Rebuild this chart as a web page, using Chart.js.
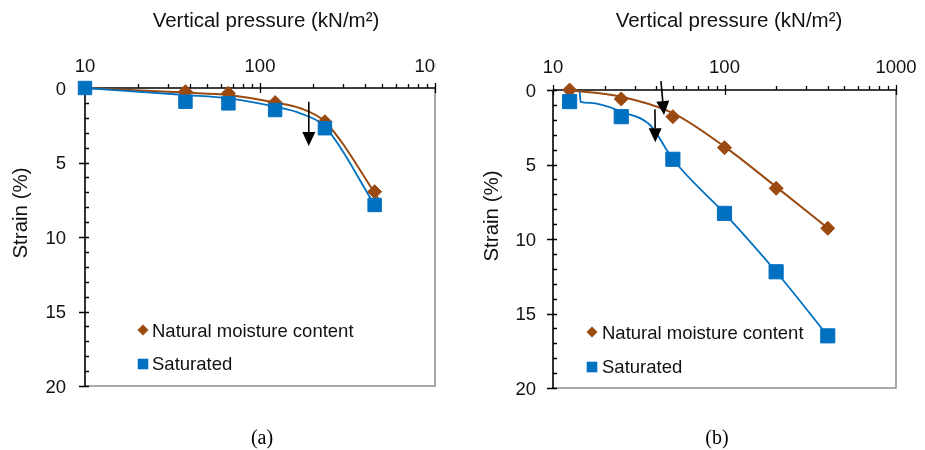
<!DOCTYPE html>
<html><head><meta charset="utf-8">
<script src="https://cdn.jsdelivr.net/npm/chart.js@4.4.1/dist/chart.umd.min.js"></script>
<style>
html,body{margin:0;padding:0;background:#fff;width:925px;height:450px;overflow:hidden}
#wrapA{position:absolute;left:0;top:0;width:462px;height:450px}
#wrapB{position:absolute;left:462px;top:0;width:463px;height:450px}
canvas{display:block}
</style></head><body>
<div id="wrapA"><canvas id="chartA" width="462" height="450"></canvas></div>
<div id="wrapB"><canvas id="chartB" width="463" height="450"></canvas></div>
<script>
// ---------- texts ----------
const xTitle = 'Vertical pressure (kN/m²)';
const yTitle = 'Strain (%)';
const seriesNames = ['Natural moisture content', 'Saturated'];
const xTickValues = [10, 100, 1000];
const xTickLabels = ['10', '100', '1000'];
const yTickValues = [0, 5, 10, 15, 20];
const yTickLabels = ['0', '5', '10', '15', '20'];
const panelLabels = ['(a)', '(b)'];

// ---------- panel (a) ----------
const pressureA = [10, 37.5, 66, 122, 235, 452];
const naturalA = [0, 0.25, 0.36, 0.98, 2.26, 6.96];
const saturatedA = [0, 0.92, 1.03, 1.48, 2.7, 7.85];
const naturalCurveXA = [10, 37.5, 66, 122, 170, 235, 452, 485];
const naturalCurveYA = [0, 0.31, 0.47, 0.98, 1.36, 2.26, 7.05, 7.63];
const saturatedCurveXA = [10, 37.5, 66, 122, 170, 235, 452];
const saturatedCurveYA = [0, 0.47, 0.69, 1.25, 1.7, 2.6, 7.85];
const arrowsA = [[190, 0.92, 190, 3.89]];

// ---------- panel (b) ----------
const pressureB = [12.5, 25, 50, 100, 200, 400];
const naturalB = [0, 0.6, 1.79, 3.87, 6.6, 9.28];
const saturatedB = [0.78, 1.79, 4.65, 8.28, 12.2, 16.5];
const naturalCurveXB = [12.5, 25, 50, 100, 200, 400];
const naturalCurveYB = [0.02, 0.45, 1.55, 3.8, 6.5, 9.27];
const saturatedCurveXB = [14.3, 14.5, 16.5, 25.7, 36.8, 50, 100, 200, 400];
const saturatedCurveYB = [0.12, 0.8, 0.87, 1.5, 2.35, 4.65, 8.28, 12.2, 16.5];
const arrowsB = [[42.6, -0.6, 44.4, 1.68], [39.3, 1.3, 39.5, 3.51]];

const BROWN = '#9A4A10';
const BLUE = '#0070C0';
const FONT = '"Liberation Sans", Arial, sans-serif';
const FS = 18.5;
const FT = 20.5;

function pts(xs, ys) { return xs.map((x, i) => ({ x: x, y: ys[i] })); }

const panelPlugin = {
  id: 'panel',
  beforeDatasetsDraw(chart, args, o) {
    const ctx = chart.ctx, xs = chart.scales.x, ys = chart.scales.y, a = chart.chartArea;
    ctx.save();
    ctx.lineCap = 'butt';
    // grey frame right & bottom
    ctx.strokeStyle = '#8f8f8f'; ctx.lineWidth = 1.6;
    ctx.beginPath();
    ctx.moveTo(a.left, a.bottom); ctx.lineTo(a.right, a.bottom); ctx.lineTo(a.right, a.top);
    ctx.stroke();
    // axes
    ctx.strokeStyle = '#000'; ctx.lineWidth = 1.6;
    ctx.beginPath();
    ctx.moveTo(a.left, a.top); ctx.lineTo(a.right + 1, a.top);
    ctx.moveTo(a.left, a.top); ctx.lineTo(a.left, a.bottom + 1);
    ctx.stroke();
    ctx.lineWidth = 1.3;
    ctx.beginPath();
    for (let d = 10; d < 1000; d *= 10) {
      for (let m = 2; m <= 9; m++) {
        const px = Math.round(xs.getPixelForValue(d * m)) + 0.5;
        ctx.moveTo(px, a.top); ctx.lineTo(px, a.top - 4);
      }
    }
    xTickValues.forEach(v => {
      const px = Math.round(xs.getPixelForValue(v)) + 0.5;
      ctx.moveTo(px, a.top - 5); ctx.lineTo(px, a.top + 5);
    });
    for (let v = ys.min; v <= ys.max; v++) {
      const py = Math.round(ys.getPixelForValue(v)) + 0.5;
      if (v % 5) { ctx.moveTo(a.left, py); ctx.lineTo(a.left + 4, py); }
      else { ctx.moveTo(a.left - 6, py); ctx.lineTo(a.left + 4, py); }
    }
    ctx.stroke();
    // tick labels
    ctx.fillStyle = '#111';
    ctx.font = FS + 'px ' + FONT;
    ctx.textBaseline = 'middle';
    ctx.textAlign = 'center';
    ctx.save();
    if (o.clipRight) { ctx.beginPath(); ctx.rect(0, 0, o.clipRight, chart.height); ctx.clip(); }
    xTickValues.forEach((v, i) => ctx.fillText(xTickLabels[i], xs.getPixelForValue(v), a.top - o.xLabelGap));
    ctx.restore();
    ctx.textAlign = 'right';
    yTickValues.forEach((v, i) => ctx.fillText(yTickLabels[i], a.left - o.yLabelGap, ys.getPixelForValue(v) + 1.5));
    // axis titles
    ctx.font = FT + 'px ' + FONT;
    ctx.textAlign = 'center';
    ctx.fillText(xTitle, o.titleX, o.titleY);
    ctx.save();
    ctx.translate(o.yTitleX, o.yTitleY);
    ctx.rotate(-Math.PI / 2);
    ctx.fillText(yTitle, 0, 0);
    ctx.restore();
    // panel caption
    ctx.font = '20px "Liberation Serif", "Times New Roman", serif';
    ctx.fillStyle = '#000';
    ctx.fillText(o.caption, o.captionX, o.captionY);
    ctx.restore();
  },
  afterDatasetsDraw(chart, args, o) {
    const ctx = chart.ctx, xs = chart.scales.x, ys = chart.scales.y;
    ctx.save();
    // arrows
    ctx.strokeStyle = '#000'; ctx.fillStyle = '#000'; ctx.lineWidth = 1.6;
    o.arrows.forEach(ar => {
      const x1 = xs.getPixelForValue(ar[0]), y1 = ys.getPixelForValue(ar[1]);
      const x2 = xs.getPixelForValue(ar[2]), y2 = ys.getPixelForValue(ar[3]);
      const ang = Math.atan2(y2 - y1, x2 - x1);
      const L = 14, W = 6.5;
      const bx = x2 - L * Math.cos(ang), by = y2 - L * Math.sin(ang);
      ctx.beginPath(); ctx.moveTo(x1, y1); ctx.lineTo(bx, by); ctx.stroke();
      ctx.beginPath();
      ctx.moveTo(x2, y2);
      ctx.lineTo(bx + W * Math.sin(ang), by - W * Math.cos(ang));
      ctx.lineTo(bx - W * Math.sin(ang), by + W * Math.cos(ang));
      ctx.closePath(); ctx.fill();
    });
    // legend
    const lg = o.legend;
    ctx.font = FS + 'px ' + FONT;
    ctx.textBaseline = 'middle'; ctx.textAlign = 'left'; ctx.fillStyle = '#111';
    const items = [chart.data.datasets[1], chart.data.datasets[0]];
    items.forEach((ds, i) => {
      const y = lg.rows[i];
      ctx.fillStyle = ds.backgroundColor;
      ctx.beginPath();
      if (ds.pointStyle === 'rectRot') {
        const r = 5.5;
        ctx.moveTo(lg.markerX, y - r); ctx.lineTo(lg.markerX + r, y); ctx.lineTo(lg.markerX, y + r); ctx.lineTo(lg.markerX - r, y);
        ctx.closePath();
      } else {
        ctx.rect(lg.markerX - 5.3, y - 5.3, 10.6, 10.6);
      }
      ctx.fill();
      ctx.fillStyle = '#111';
      ctx.fillText(ds.label, lg.textX, lg.textRows[i]);
    });
    ctx.restore();
  }
};

function makeChart(id, d, opt) {
  return new Chart(document.getElementById(id), {
    type: 'scatter',
    data: {
      datasets: [
        { label: seriesNames[1], data: pts(d.px, d.sat), pointStyle: 'rect', pointRadius: d.sqR,
          backgroundColor: BLUE, borderColor: BLUE, borderWidth: 1, showLine: false, clip: false },
        { label: seriesNames[0], data: pts(d.px, d.nat), pointStyle: 'rectRot', pointRadius: 7,
          backgroundColor: BROWN, borderColor: BROWN, borderWidth: 1, showLine: false, clip: false },
        { label: seriesNames[1] + ' curve', data: pts(d.scx, d.scy), showLine: true, pointRadius: 0,
          borderColor: BLUE, borderWidth: 1.8, cubicInterpolationMode: 'monotone', clip: false },
        { label: seriesNames[0] + ' curve', data: pts(d.ncx, d.ncy), showLine: true, pointRadius: 0,
          borderColor: BROWN, borderWidth: 2, cubicInterpolationMode: 'monotone', clip: false }
      ]
    },
    options: {
      responsive: false, animation: false, devicePixelRatio: 1,
      layout: { padding: opt.padding },
      scales: {
        x: { type: 'logarithmic', min: 10, max: 1000, display: false },
        y: { type: 'linear', min: 0, max: 20, reverse: true, display: false }
      },
      plugins: {
        legend: { display: false }, tooltip: { enabled: false },
        panel: opt.panel
      }
    },
    plugins: [panelPlugin]
  });
}

makeChart('chartA',
  { px: pressureA, nat: naturalA, sat: saturatedA, ncx: naturalCurveXA, ncy: naturalCurveYA,
    scx: saturatedCurveXA, scy: saturatedCurveYA, sqR: 9.5 },
  { padding: { left: 85, right: 27, top: 88, bottom: 64 },
    panel: { clipRight: 436, xLabelGap: 21, yLabelGap: 19, titleX: 266, titleY: 21,
      yTitleX: 21, yTitleY: 213, caption: panelLabels[0], captionX: 262, captionY: 439,
      arrows: arrowsA,
      legend: { markerX: 143, rows: [330, 364], textX: 152, textRows: [331.5, 365] } } });

makeChart('chartB',
  { px: pressureB, nat: naturalB, sat: saturatedB, ncx: naturalCurveXB, ncy: naturalCurveYB,
    scx: saturatedCurveXB, scy: saturatedCurveYB, sqR: 10 },
  { padding: { left: 91, right: 29, top: 90, bottom: 62 },
    panel: { clipRight: 0, xLabelGap: 22.5, yLabelGap: 17, titleX: 267, titleY: 21,
      yTitleX: 30, yTitleY: 216, caption: panelLabels[1], captionX: 255, captionY: 439,
      arrows: arrowsB,
      legend: { markerX: 130, rows: [332, 367], textX: 140, textRows: [333.5, 368] } } });
</script>
</body></html>
